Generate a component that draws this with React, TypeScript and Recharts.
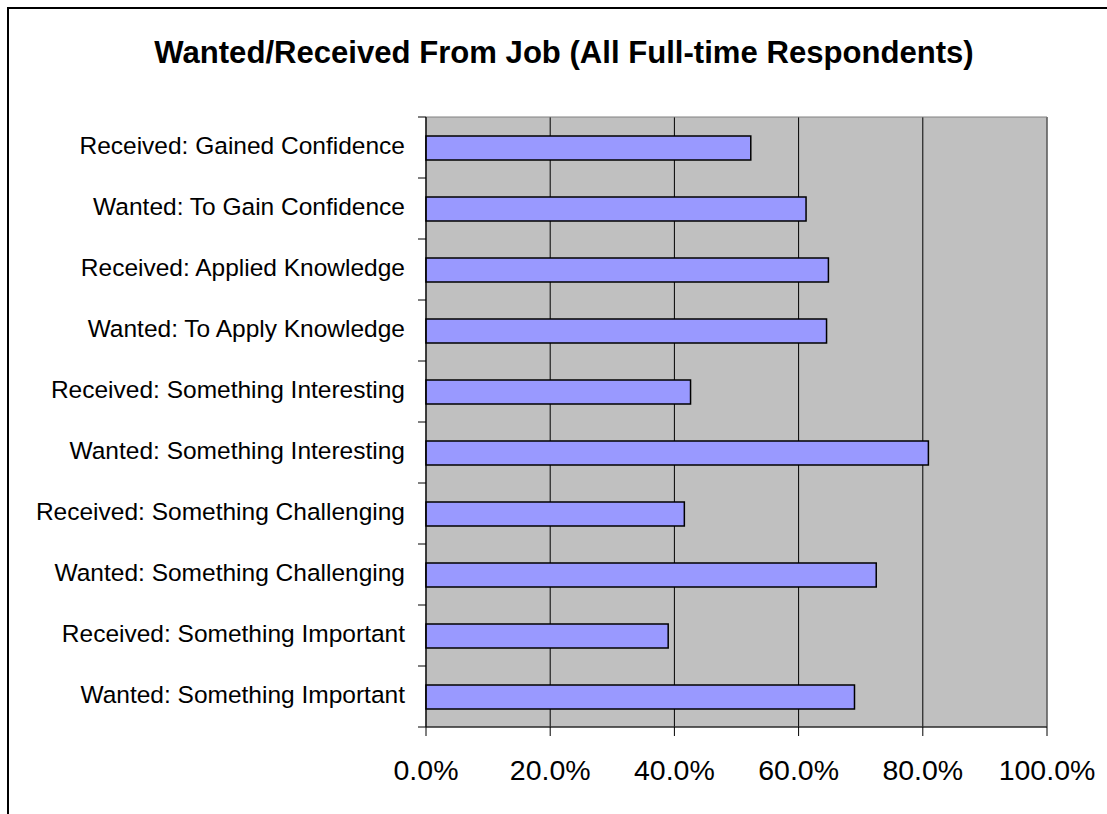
import { BarChart, Bar, XAxis, YAxis, CartesianGrid, ReferenceArea } from 'recharts';

const categories = [
  'Received: Gained Confidence',
  'Wanted: To Gain Confidence',
  'Received: Applied Knowledge',
  'Wanted: To Apply Knowledge',
  'Received: Something Interesting',
  'Wanted: Something Interesting',
  'Received: Something Challenging',
  'Wanted: Something Challenging',
  'Received: Something Important',
  'Wanted: Something Important',
];

const percents = [52.3, 61.2, 64.8, 64.5, 42.6, 80.9, 41.6, 72.5, 39.0, 69.0];

const xTicks = [0, 20, 40, 60, 80, 100];

const data = categories.map((name, i) => ({ name, value: percents[i] }));

const W = 1107;
const H = 814;
const MARGIN = { top: 117, right: 60, bottom: 0, left: 0 };
const X_AXIS_H = 87;
const FONT = '"Liberation Sans", Arial, sans-serif';

const band = (H - MARGIN.top - X_AXIS_H) / categories.length;

function CategoryTick(props: any) {
  const { x, y, payload, index } = props;
  const ax = x + 8; // axis line x (recharts hands us x minus tick size/margin)
  return (
    <g>
      <line x1={ax - 8} x2={ax} y1={y - band / 2} y2={y - band / 2} stroke="#000" />
      {index === categories.length - 1 && (
        <line x1={ax - 8} x2={ax} y1={y + band / 2} y2={y + band / 2} stroke="#000" />
      )}
      <text
        x={ax - 21}
        y={y}
        dy="0.25em"
        textAnchor="end"
        fontSize={24.5}
        fontFamily={FONT}
        fill="#000"
      >
        {payload.value}
      </text>
    </g>
  );
}

export default function App() {
  return (
    <div
      style={{
        position: 'fixed',
        left: 0,
        top: 0,
        width: W,
        height: H,
        overflow: 'hidden',
        background: '#fff',
      }}
    >
      <div
        style={{
          position: 'absolute',
          left: 7,
          top: 7,
          width: 1200,
          height: 900,
          border: '2px solid #000',
        }}
      />
      <div
        style={{
          position: 'absolute',
          left: 0,
          top: 37,
          width: 1128,
          textAlign: 'center',
          fontFamily: FONT,
          fontWeight: 'bold',
          fontSize: 31.1,
          lineHeight: '31.1px',
          color: '#000',
          whiteSpace: 'nowrap',
        }}
      >
        Wanted/Received From Job (All Full-time Respondents)
      </div>
      <div style={{ position: 'absolute', left: 0, top: 0 }}>
        <BarChart width={W} height={H} data={data} layout="vertical" margin={MARGIN} barSize={24}>
          <CartesianGrid
            horizontal={false}
            vertical={true}
            stroke="#000"
            fill="#C0C0C0"
            fillOpacity={1}
          />
          <ReferenceArea x1={0} x2={100} fill="none" stroke="#808080" strokeWidth={1} />
          <XAxis
            type="number"
            domain={[0, 100]}
            ticks={xTicks}
            height={X_AXIS_H}
            tickFormatter={(v: number) => v.toFixed(1) + '%'}
            axisLine={{ stroke: '#000' }}
            tickLine={{ stroke: '#000' }}
            tickSize={9}
            tickMargin={24}
            tick={{ fontSize: 28.5, fontFamily: FONT, fill: '#000' }}
            interval={0}
          />
          <YAxis
            type="category"
            dataKey="name"
            width={426}
            axisLine={{ stroke: '#000' }}
            tickLine={false}
            tick={<CategoryTick />}
            interval={0}
          />
          <Bar
            dataKey="value"
            fill="#9999FF"
            stroke="#000"
            strokeWidth={1.5}
            isAnimationActive={false}
          />
        </BarChart>
      </div>
    </div>
  );
}
